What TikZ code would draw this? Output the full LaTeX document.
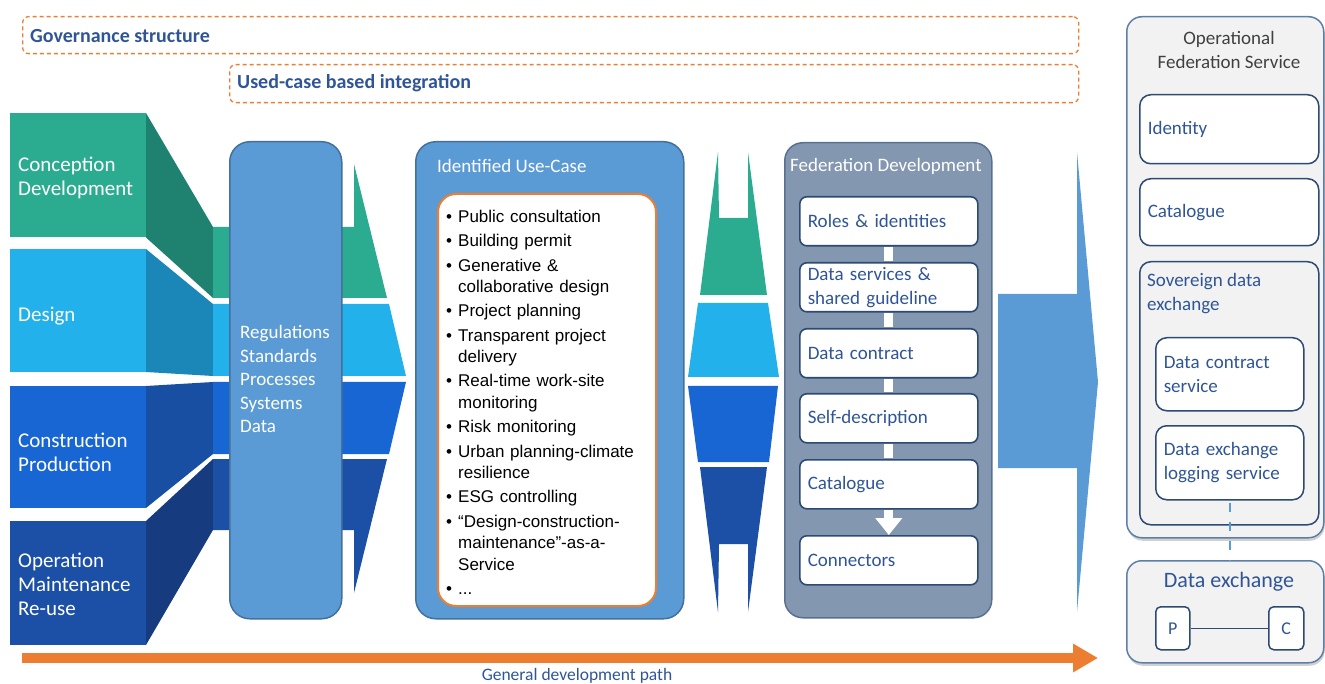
\documentclass[tikz,border=0pt]{standalone}
\usepackage{fontspec}
\setmainfont{Carlito}
\newfontfamily\arialf{Liberation Sans}
\usetikzlibrary{arrows.meta,shadows,calc}
\definecolor{teal1}{HTML}{2BAC91}
\definecolor{teal2}{HTML}{1F8270}
\definecolor{sky1}{HTML}{22B1EB}
\definecolor{sky2}{HTML}{1A87B8}
\definecolor{blu1}{HTML}{1866D3}
\definecolor{blu2}{HTML}{184FA3}
\definecolor{nav1}{HTML}{1B50A6}
\definecolor{nav2}{HTML}{163B7F}
\definecolor{colBlue}{HTML}{5B9BD5}
\definecolor{colBorder}{HTML}{41719C}
\definecolor{fedFill}{HTML}{8497B0}
\definecolor{fedBorder}{HTML}{5A7091}
\definecolor{boxBorder}{HTML}{2C4A72}
\definecolor{txtBlue}{HTML}{2F5597}
\definecolor{panelFill}{HTML}{F2F2F2}
\definecolor{panelBorder}{HTML}{5C7FA8}
\definecolor{orangeC}{HTML}{ED7D31}
\newcommand\ucnl{\hfil\break}
\newcommand\ucitem[1]{\par\hangindent=12pt\hangafter=1\noindent\makebox[12pt][l]{\textbullet}#1\par}
\begin{document}
\begin{tikzpicture}[x=1pt,y=-1pt,
  govbox/.style={draw=orangeC, dash pattern=on 4pt off 3pt, line width=1.3pt, rounded corners=6pt, anchor=north west, inner sep=0pt},
  govtext/.style={anchor=west, font=\fontsize{20}{23}\selectfont\bfseries, text=txtBlue, inner sep=0pt},
  bandtext/.style={anchor=west, align=left, font=\fontsize{21}{24}\selectfont, text=white, inner sep=0pt},
  bigcol/.style={draw=colBorder, fill=colBlue, line width=1.5pt, rounded corners=20pt, anchor=north west, inner sep=0pt},
  coltitle/.style={anchor=west, font=\fontsize{19}{22}\selectfont, text=white, inner sep=0pt},
  fbox/.style={draw=boxBorder, fill=white, line width=1.6pt, rounded corners=7pt, anchor=north west,
     minimum width=178pt, minimum height=49pt, text width=162pt, inner xsep=8pt, inner ysep=0pt, align=left,
     font=\fontsize{19}{24}\selectfont, text=txtBlue},
  conn/.style={white, line width=9pt, shorten <=0.8pt, shorten >=0.8pt},
  panel/.style={draw=panelBorder, fill=panelFill, line width=1.5pt, rounded corners=15pt, anchor=north west, inner sep=0pt,
     drop shadow={shadow xshift=1pt, shadow yshift=-3pt, opacity=0.3, fill=black!60}},
  pbox/.style={draw=boxBorder, fill=white, line width=1.5pt, rounded corners=11pt, anchor=north west, inner xsep=8pt, inner ysep=0pt,
     align=left, font=\fontsize{19}{24}\selectfont, text=txtBlue},
  pctext/.style={font=\fontsize{18}{22}\selectfont, text=txtBlue, inner sep=0pt}
]
\useasboundingbox (0,0) rectangle (1325,684);

% top dashed frames
\node[govbox, minimum width=1056pt, minimum height=37pt] (gov) at (22,16) {};
\node[govtext] (govt) at (30,36) {Governance structure};
\node[govbox, minimum width=849pt, minimum height=38pt] (uci) at (229,64) {};
\node[govtext] (ucit) at (237,83) {Used-case based integration};

% left bands
% Conception
\fill[teal1] (10,113) rectangle (146,237.5);
\fill[teal2] (146,113) -- (213,227) -- (213,298) -- (146,237.5) -- cycle;
\fill[teal1] (213,227) -- (354,227) -- (354,164) -- (387,298) -- (213,298) -- cycle;
% Design
\fill[sky1] (10,249) rectangle (146,372);
\fill[sky2] (146,249) -- (213,304) -- (213,376) -- (146,372) -- cycle;
\fill[sky1] (213,304) -- (389,304) -- (406,376) -- (213,376) -- cycle;
% Construction
\fill[blu1] (10,386) rectangle (146,508);
\fill[blu2] (146,386) -- (213,382) -- (213,454) -- (146,508) -- cycle;
\fill[blu1] (213,382) -- (406,382) -- (389,454) -- (213,454) -- cycle;
% Operation
\fill[nav1] (10,521) rectangle (146,645);
\fill[nav2] (146,521) -- (213,459) -- (213,530) -- (146,645) -- cycle;
\fill[nav1] (213,459) -- (387,459) -- (354,593) -- (354,530) -- (213,530) -- cycle;

\node[bandtext] (t1) at (18,178) {Conception\\Development};
\node[bandtext] (t2) at (18,316) {Design};
\node[bandtext] (t3) at (18,452) {Construction\\Production};
\node[bandtext] (t4) at (18,584) {Operation\\Maintenance\\Re-use};

% Regulations column
\node[bigcol, minimum width=112pt, minimum height=477pt] (reg) at (229,141) {};
\node[anchor=west, align=left, font=\fontsize{19}{23.5}\selectfont, text=white, inner sep=0pt] (regt) at (240,379)
  {Regulations\\Standards\\Processes\\Systems\\Data};

% Identified use-case
\node[bigcol, minimum width=268pt, minimum height=477pt] (uc) at (415,141) {};
\node[coltitle] (uct) at (437,166) {Identified Use-Case};
\node[draw=orangeC, fill=white, line width=2pt, rounded corners=18pt, anchor=north west, inner sep=0pt,
      minimum width=218pt, minimum height=412pt] (ucl) at (437,193) {};
\node[anchor=north west, inner sep=0pt, text width=204pt, font=\arialf\fontsize{17}{21.5}\selectfont] (ucitems) at (446,198)
 {\setlength\parskip{2.8pt}\raggedright
  \ucitem{Public consultation}
  \ucitem{Building permit}
  \ucitem{Generative \&\ucnl collaborative design}
  \ucitem{Project planning}
  \ucitem{Transparent project\ucnl delivery}
  \ucitem{Real-time work-site\ucnl monitoring}
  \ucitem{Risk monitoring}
  \ucitem{Urban planning-climate\ucnl resilience}
  \ucitem{ESG controlling}
  \ucitem{“Design-construction-\ucnl maintenance”-as-a-\ucnl Service}
  \ucitem{...}};

% middle hourglass
\fill[teal1] (718,152) -- (719,218) -- (748,218) -- (748,152) -- (767,295) -- (700,295) -- cycle;
\fill[sky1] (698,303) -- (768,303) -- (779,377) -- (688,377) -- cycle;
\fill[blu1] (688,386) -- (778,386) -- (769,462) -- (698,462) -- cycle;
\fill[nav1] (700,467) -- (767,467) -- (748,612) -- (748,544) -- (719,544) -- (718,612) -- cycle;

% Federation development
\node[draw=fedBorder, fill=fedFill, line width=1.5pt, rounded corners=18pt, anchor=north west, inner sep=0pt,
      minimum width=207pt, minimum height=475pt] (fed) at (784,142) {};
\node[coltitle] (fedt) at (790,166) {Federation Development};
\node[fbox] (f1) at (799,196) {Roles \& identities};
\node[fbox] (f2) at (799,262) {Data services \&\\shared guideline};
\node[fbox] (f3) at (799,328) {Data contract};
\node[fbox] (f4) at (799,393) {Self-description};
\node[fbox] (f5) at (799,459) {Catalogue};
\node[fbox] (f6) at (799,535) {Connectors};
\draw[conn] (f1.south) -- (f2.north);
\draw[conn] (f2.south) -- (f3.north);
\draw[conn] (f3.south) -- (f4.north);
\draw[conn] (f4.south) -- (f5.north);
\draw[white, line width=9pt, shorten <=0.8pt, -{Triangle[length=17pt,width=26pt]}] (f5.south) -- (f6.north);

% big right arrow
\fill[colBlue] (998,294) -- (1077,294) -- (1077,152) -- (1098,382) -- (1077,612) -- (1077,468) -- (998,468) -- cycle;

% right panel
\node[panel, minimum width=197pt, minimum height=521pt] (ops) at (1126,16) {};
\node[align=center, font=\fontsize{19}{24}\selectfont, text=black!75, inner sep=0pt] (opst) at (1229,50)
  {Operational\\Federation Service};
\node[pbox, minimum width=179pt, minimum height=69pt, text width=163pt] (id) at (1139,94) {Identity};
\node[pbox, minimum width=179pt, minimum height=67pt, text width=163pt] (cat) at (1139,178) {Catalogue};
\node[draw=boxBorder, fill=panelFill, line width=1.5pt, rounded corners=11pt, anchor=north west, inner sep=0pt,
      minimum width=179pt, minimum height=263pt] (sov) at (1139,261) {};
\node[anchor=west, align=left, font=\fontsize{19}{24}\selectfont, text=txtBlue, inner sep=0pt] (sovt) at (1147,293.5)
  {Sovereign data\\exchange};
\node[pbox, minimum width=148pt, minimum height=73pt, text width=132pt] (dcs) at (1155,337) {Data contract\\service};
\node[pbox, minimum width=148pt, minimum height=74pt, text width=132pt] (dls) at (1155,425) {Data exchange\\logging service};

\node[panel, minimum width=197pt, minimum height=102pt] (dex) at (1126,560) {};
\node[font=\fontsize{22}{26}\selectfont, text=txtBlue, inner sep=0pt] (dext) at (1229,582) {Data exchange};
\node[draw=boxBorder, fill=white, line width=1.5pt, rounded corners=5pt, anchor=north west, minimum width=34pt,
      minimum height=43pt, pctext] (pp) at (1155,606) {P};
\node[draw=boxBorder, fill=white, line width=1.5pt, rounded corners=5pt, anchor=north west, minimum width=35pt,
      minimum height=43pt, pctext] (cc) at (1268,606) {C};
\draw[boxBorder, line width=1.3pt] (pp) -- (cc);
\draw[colBlue, line width=2.5pt, dash pattern=on 9pt off 10pt] ($(dls.south)+(0,2)$) -- (dls.south |- dex.north);

% general development path
\coordinate (gs) at (22,658);
\coordinate (ge) at (1098,658);
\draw[orangeC, line width=10pt, -{Triangle[length=25pt,width=27pt]}] (gs) -- (ge);
\node[font=\fontsize{17.5}{20}\selectfont, text=txtBlue, inner sep=0pt] (gdp) at (577,676) {General development path};
\end{tikzpicture}
\end{document}
